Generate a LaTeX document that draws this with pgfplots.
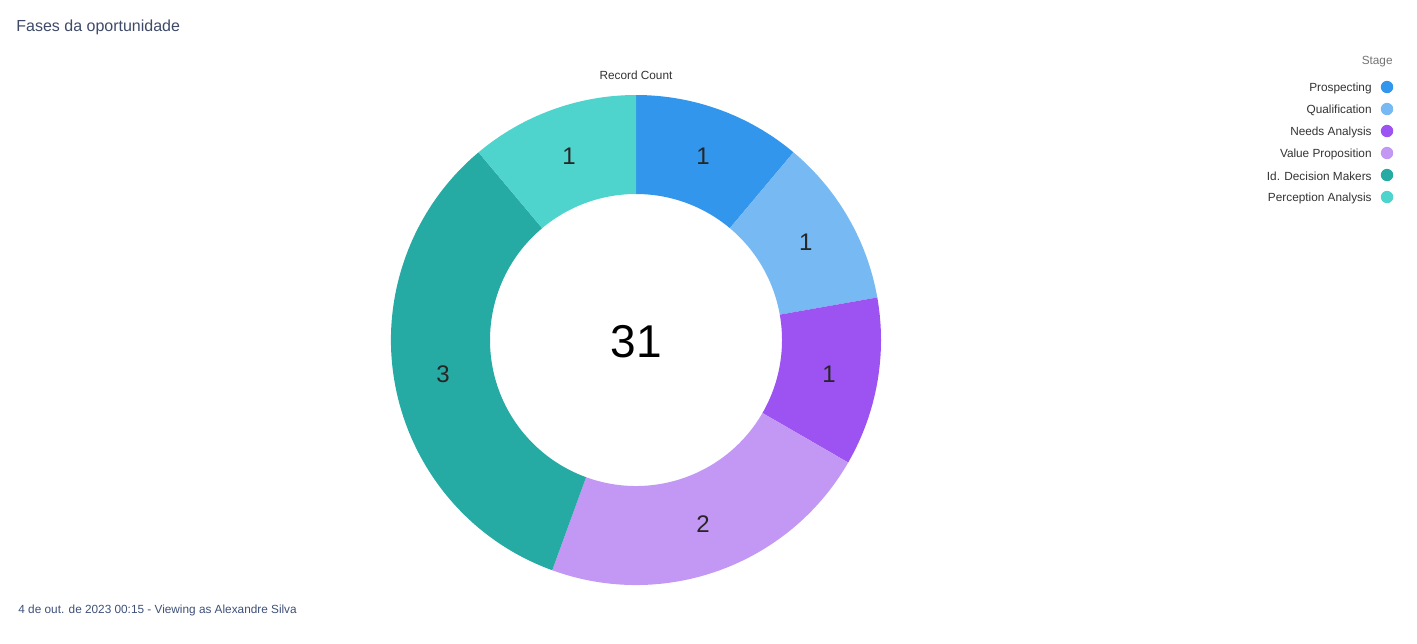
\documentclass[border=0pt]{standalone}
\usepackage{pgfplots}
\pgfplotsset{compat=1.18}
\usepackage{pgfplotstable}
\usepackage{fontspec}
\setmainfont{Liberation Sans}
\usetikzlibrary{calc}
\definecolor{cP}{HTML}{3296ED}
\definecolor{cQ}{HTML}{77B9F2}
\definecolor{cN}{HTML}{9D53F2}
\definecolor{cV}{HTML}{C398F5}
\definecolor{cD}{HTML}{26ABA4}
\definecolor{cA}{HTML}{4ED4CD}
\definecolor{titlec}{HTML}{3E4A68}
\definecolor{footc}{HTML}{3E5078}
\pgfplotstableread[col sep=comma]{
stage,value,color
Prospecting,1,cP
Qualification,1,cQ
Needs Analysis,1,cN
Value Proposition,2,cV
Id. Decision Makers,3,cD
Perception Analysis,1,cA
}\stagetable
\pgfplotstablegetrowsof{\stagetable}
\pgfmathtruncatemacro\lastrow{\pgfplotsretval-1}
\def\total{0}
\pgfplotsforeachungrouped \i in {0,...,\lastrow}{%
  \pgfplotstablegetelem{\i}{value}\of\stagetable
  \pgfmathsetmacro\total{\total+\pgfplotsretval}}
\begin{document}
\begin{tikzpicture}
\begin{axis}[
  x=0.5pt, y=0.5pt,
  xmin=0, xmax=1417, ymin=0, ymax=643,
  y dir=reverse,
  hide axis, clip=false,
  scale only axis,
]
\path (axis cs:0,0) rectangle (axis cs:1417,643);
\def\cum{0}
\pgfplotsforeachungrouped \i in {0,...,\lastrow}{%
  \pgfplotstablegetelem{\i}{value}\of\stagetable \let\v\pgfplotsretval
  \pgfplotstablegetelem{\i}{color}\of\stagetable \let\c\pgfplotsretval
  \pgfplotstablegetelem{\i}{stage}\of\stagetable \let\s\pgfplotsretval
  \pgfmathsetmacro\aS{90-360*\cum/\total}
  \pgfmathsetmacro\aE{90-360*(\cum+\v)/\total}
  \pgfmathsetmacro\aM{(\aS+\aE)/2}
  \pgfmathsetmacro\cum{\cum+\v}
  \pgfmathsetmacro\ly{88+22*\i}
  \pgfmathsetmacro\dy{87+22*\i}
  \edef\temp{%
    \noexpand\fill[\c] ($(axis cs:636,340)+(\aS:122.5pt)$) arc[start angle=\aS, end angle=\aE, radius=122.5pt]
      -- ($(axis cs:636,340)+(\aE:73pt)$) arc[start angle=\aE, end angle=\aS, radius=73pt] -- cycle;
    \noexpand\node[text=black!85, font=\noexpand\fontsize{12pt}{14pt}\noexpand\selectfont] at ($(axis cs:636,340)+(\aM:98pt)$) {\v};
    \noexpand\node[anchor=east, inner sep=0pt, text=black!80, font=\noexpand\fontsize{5.9pt}{7pt}\noexpand\selectfont] at (axis cs:1372,\ly) {\s};
    \noexpand\fill[\c] (axis cs:1387,\dy) circle[radius=3.1pt];
  }%
  \temp
}
\node[text=black, font=\fontsize{23pt}{27pt}\selectfont] at (axis cs:636,342) {31};
\node[text=black!80, font=\fontsize{5.9pt}{7pt}\selectfont] at (axis cs:636,75) {Record Count};
\node[anchor=east, inner sep=0pt, text=black!55, font=\fontsize{5.9pt}{7pt}\selectfont] at (axis cs:1393,62) {Stage};
\node[anchor=west, inner sep=0pt, text=titlec, font=\fontsize{8pt}{10pt}\selectfont] at (axis cs:16,27) {Fases da oportunidade};
\node[anchor=west, inner sep=0pt, text=footc, font=\fontsize{5.9pt}{7pt}\selectfont] at (axis cs:18,610) {4 de out. de 2023 00:15 - Viewing as Alexandre Silva};
\end{axis}
\end{tikzpicture}
\end{document}
